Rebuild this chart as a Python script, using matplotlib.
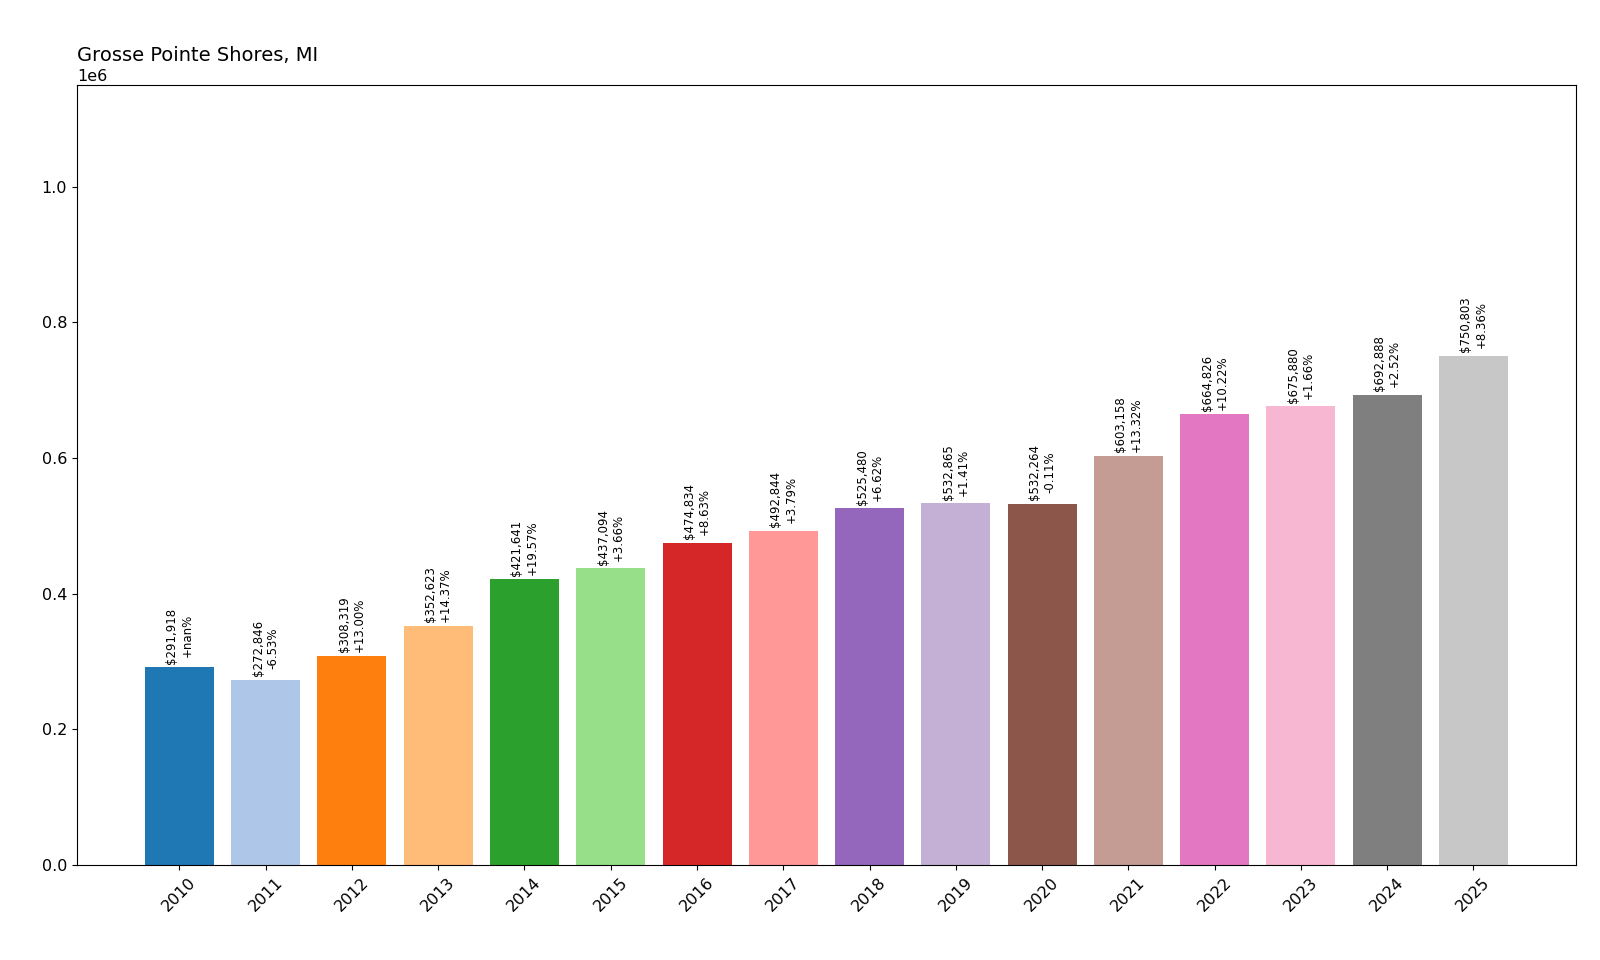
import matplotlib
matplotlib.use("Agg")
import matplotlib.pyplot as plt

years = [str(y) for y in range(2010, 2026)]
values = [291918, 272846, 308319, 352623, 421641, 437094, 474834, 492844,
          525480, 532865, 532264, 603158, 664826, 675880, 692888, 750803]
changes = ["+nan%", "-6.53%", "+13.00%", "+14.37%", "+19.57%", "+3.66%", "+8.63%", "+3.79%",
           "+6.62%", "+1.41%", "-0.11%", "+13.32%", "+10.22%", "+1.66%", "+2.52%", "+8.36%"]

fig = plt.figure(figsize=(16, 9.6), dpi=100)
ax = fig.add_axes([0.048, 0.099, 0.937, 0.812])
colors = plt.cm.tab20.colors
bars = ax.bar(years, values, color=[colors[i % 20] for i in range(len(values))])
for b, v, c in zip(bars, values, changes):
    ax.text(b.get_x() + b.get_width() / 2, v + 5000, f"${v:,}\n{c}",
            rotation=90, ha="center", va="bottom", fontsize=8.5)
ax.set_ylim(0, 1.149e6)
ax.set_title("Grosse Pointe Shores, MI", loc="left", fontsize=14)
plt.setp(ax.get_xticklabels(), rotation=45)
ax.tick_params(labelsize=11.5)
ax.yaxis.get_offset_text().set_fontsize(11.5)
fig.savefig("out.png", dpi=100)
